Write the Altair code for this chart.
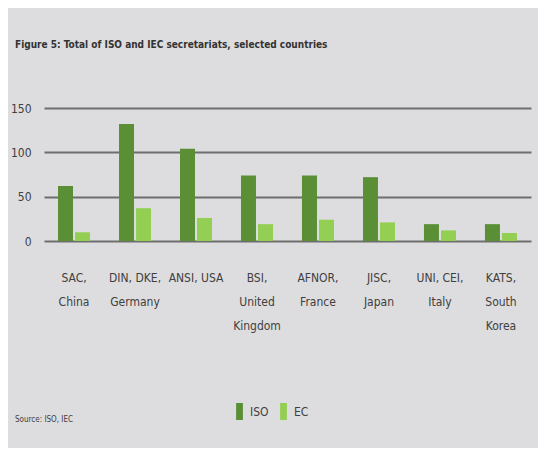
import altair as alt
import pandas as pd

categories = ["SAC,|China", "DIN, DKE,|Germany", "ANSI, USA", "BSI,|United|Kingdom",
              "AFNOR,|France", "JISC,|Japan", "UNI, CEI,|Italy", "KATS,|South|Korea"]
iso = [62, 132, 104, 74, 74, 72, 19, 19]
iec = [10, 37, 26, 19, 24, 21, 12, 9]
series = ["ISO", "EC"]
colors = ["#5a8f35", "#93cf52"]

rows = []
for c, a, b in zip(categories, iso, iec):
    rows.append({"country": c, "series": "ISO", "value": a})
    rows.append({"country": c, "series": "EC", "value": b})
df = pd.DataFrame(rows)

FONT = "DejaVu Sans Condensed, Liberation Sans Narrow, sans-serif"

bars = alt.Chart(df).mark_bar().encode(
    x=alt.X("country:N", sort=categories,
            scale=alt.Scale(paddingInner=0.475, paddingOuter=0.23),
            axis=alt.Axis(title=None, labelAngle=0, ticks=False, tickSize=0, domain=False,
                          labelExpr="split(datum.label, '|')", labelLineHeight=24,
                          labelBaseline="top", labelPadding=31, labelFontSize=12,
                          labelColor="#404040", labelFont=FONT, grid=False)),
    xOffset=alt.XOffset("series:N", sort=series, scale=alt.Scale(paddingInner=0.12)),
    y=alt.Y("value:Q", scale=alt.Scale(domain=[0, 150], nice=False),
            axis=alt.Axis(title=None, values=[0, 50, 100, 150], ticks=False, tickSize=0,
                          domain=False, gridColor="#6e6e6e", gridWidth=2,
                          labelFontSize=12, labelColor="#404040", labelFont=FONT,
                          labelPadding=13)),
    color=alt.Color("series:N", sort=series,
                    scale=alt.Scale(domain=series, range=colors),
                    legend=alt.Legend(title=None, orient="none", direction="horizontal",
                                      legendX=187, legendY=295,
                                      symbolType="M-0.4,-1H0.4V1H-0.4Z", symbolSize=289,
                                      symbolStrokeWidth=0, symbolOpacity=1,
                                      labelFontSize=12, labelColor="#404040", labelFont=FONT,
                                      labelOffset=2, columnPadding=6)),
)

source = alt.Chart(pd.DataFrame({"t": ["Source: ISO, IEC"]})).mark_text(
    align="left", baseline="middle", fontSize=8, color="#404040", font=FONT
).encode(x=alt.value(-29), y=alt.value(312), text="t:N")

chart = alt.layer(bars, source).properties(
    width=487, height=133,
    title=alt.Title("Figure 5: Total of ISO and IEC secretariats, selected countries",
                    anchor="start", frame="group", dx=-29, offset=52, fontSize=10, font=FONT,
                    fontWeight="bold", color="#333333"),
    padding={"left": 36, "top": 100, "right": 7, "bottom": 207},
    autosize=alt.AutoSizeParams(type="none"),
    background="#dddddf",
).configure_view(stroke=None)

chart.save("out.html", embed_options={"renderer": "svg", "actions": False})
